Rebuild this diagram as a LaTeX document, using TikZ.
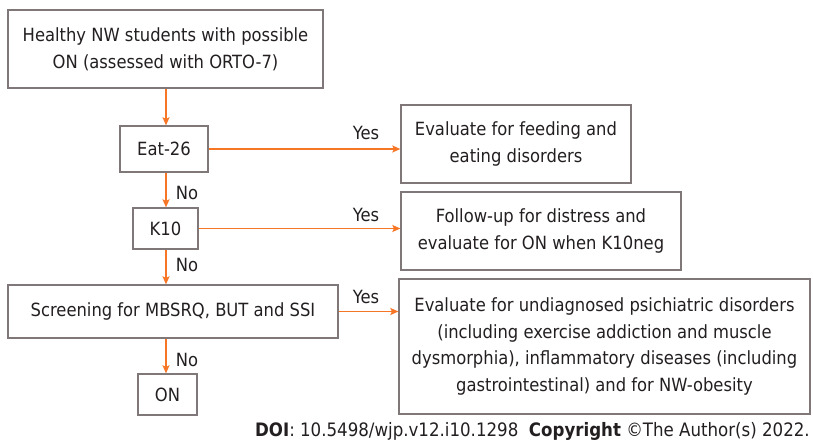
\documentclass[tikz,border=0pt]{standalone}
\usepackage{fontspec}
\setmainfont{DejaVu Sans Condensed}
\usetikzlibrary{arrows.meta,calc}
\definecolor{boxgray}{RGB}{128,120,120}
\definecolor{arrorange}{RGB}{247,118,38}
\definecolor{txt}{RGB}{35,31,32}
\tikzset{
  box/.style={draw=boxgray,line width=1.3pt,text=txt,align=center,inner sep=0pt,
    font=\fontsize{18.2}{26.7}\selectfont},
  flow/.style={draw=arrorange,line width=1.4pt,-{Stealth[length=8pt,width=7pt,inset=1.5pt]}},
  lab/.style={text=txt,font=\fontsize{18.2}{20}\selectfont,inner sep=0pt}
}
\begin{document}
\begin{tikzpicture}[x=1pt,y=-1pt]
\useasboundingbox (0,0) rectangle (813,441);
\node[box,minimum width=315pt,minimum height=78pt] (b1) at (165.5,49) {Healthy NW students with possible\\ON (assessed with ORTO-7)};
\node[box,minimum width=88pt,minimum height=46pt] (eat) at (164,149) {Eat-26};
\node[box,minimum width=65pt,minimum height=41pt] (k10) at (165.5,228.5) {K10};
\node[box,minimum width=330pt,minimum height=53pt] (scr) at (173,311.5) {Screening for MBSRQ, BUT and SSI};
\node[box,minimum width=59pt,minimum height=41pt] (on) at (167.5,394.5) {ON};
\node[box,minimum width=230pt,minimum height=78pt] (e1) at (516,144) {Evaluate for feeding and\\eating disorders};
\node[box,minimum width=280pt,minimum height=78pt] (e2) at (541,231) {Follow-up for distress and\\evaluate for ON when K10neg};
\node[box,minimum width=411pt,minimum height=135pt] (e3) at (604.5,346.5) {Evaluate for undiagnosed psichiatric disorders\\(including exercise addiction and muscle\\dysmorphia), inflammatory diseases (including\\gastrointestinal) and for NW-obesity};
\coordinate (col) at (166,0);
\draw[flow] (b1.south -| col) -- (eat.north -| col);
\draw[flow] (eat.south -| col) -- (k10.north -| col);
\draw[flow] (k10.south -| col) -- (scr.north -| col);
\draw[flow] (scr.south -| col) -- (on.north -| col);
\draw[flow] (eat.east) -- (eat.east -| e1.west);
\draw[flow] (k10.east) -- (k10.east -| e2.west);
\draw[flow] (scr.east) -- (scr.east -| e3.west);
\node[lab] (y1) at (366,133) {Yes};
\node[lab] (y2) at (366,215) {Yes};
\node[lab] (y3) at (366,297) {Yes};
\node[lab] (n1) at (187,193) {No};
\node[lab] (n2) at (187,265) {No};
\node[lab] (n3) at (187,360) {No};
\node[text=txt,font=\fontsize{18.5}{20}\selectfont,inner sep=0pt,anchor=base east] (doi) at (810,436) {\textbf{DOI}: 10.5498/wjp.v12.i10.1298\ \ \textbf{Copyright} ©The Author(s) 2022.};
\end{tikzpicture}
\end{document}
